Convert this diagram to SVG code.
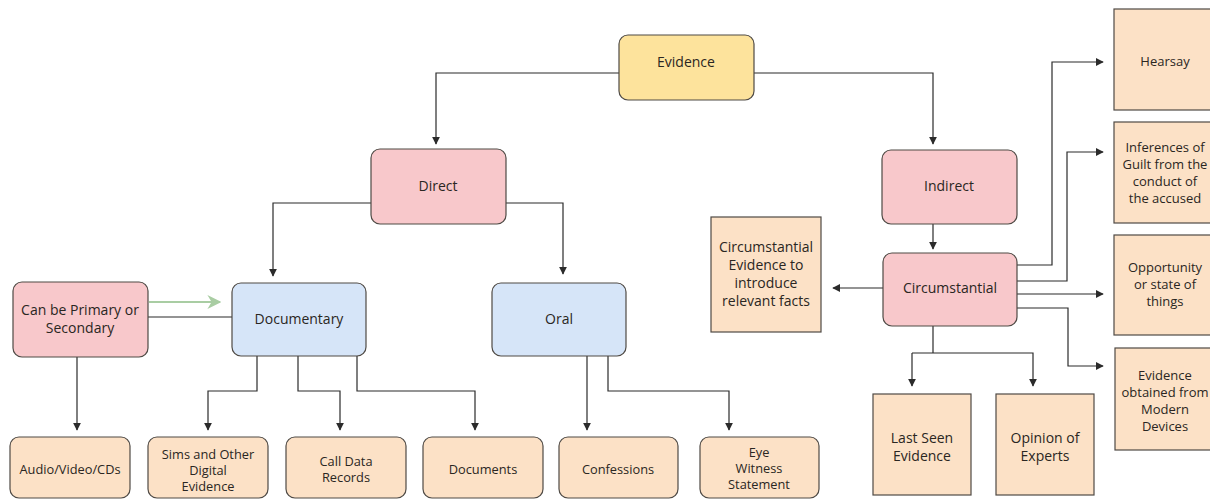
<svg xmlns="http://www.w3.org/2000/svg" width="1210" height="500" viewBox="0 0 1210 500">
  <defs>
    <marker id="arrow" viewBox="0 0 10 10" refX="9" refY="5" markerWidth="8" markerHeight="8" markerUnits="userSpaceOnUse" orient="auto">
      <path d="M0,0 L10,5 L0,10 Z" fill="#2b2b2b"/>
    </marker>
    <marker id="arrow-green" viewBox="0 0 10 10" refX="9" refY="5" markerWidth="14" markerHeight="14" markerUnits="userSpaceOnUse" orient="auto">
      <path d="M0,0 L10,5 L0,10 L3,5 Z" fill="#a9cda3"/>
    </marker>
    <style>
      .box { stroke: #4f4a45; stroke-width: 1.2; }
      .yellow { fill: #fde39c; }
      .pink { fill: #f8c8cb; }
      .blue { fill: #d6e5f8; }
      .peach { fill: #fce1c6; }
      .label { font-family: "Open Sans", "Liberation Sans", sans-serif; font-size: 14px; fill: #2a2622; text-anchor: middle; }
      .small { font-size: 12.8px; }
      .side { font-size: 13px; }
      .wire { fill: none; stroke: #2b2b2b; stroke-width: 1.2; }
      .wire-arrow { marker-end: url(#arrow); }
    </style>
  </defs>

  <rect width="1210" height="500" fill="#ffffff"/>

  <!-- connectors -->
  <g id="connectors">
    <!-- Evidence to Direct / Indirect -->
    <path class="wire wire-arrow" d="M619,73 H436 V144"/>
    <path class="wire wire-arrow" d="M754,73 H933 V144"/>
    <!-- Direct to Documentary / Oral -->
    <path class="wire wire-arrow" d="M371,203 H273 V276"/>
    <path class="wire wire-arrow" d="M506,203 H563 V274"/>
    <!-- Primary/Secondary to Documentary -->
    <path d="M149,302 H220" fill="none" stroke="#a9cda3" stroke-width="2" marker-end="url(#arrow-green)"/>
    <path class="wire" d="M148,317 H232" stroke="#6b6b6b"/>
    <path class="wire wire-arrow" d="M77,357 V430"/>
    <!-- Documentary to its children -->
    <path class="wire wire-arrow" d="M257,356 V391 H208 V430"/>
    <path class="wire wire-arrow" d="M298,356 V391 H340 V430"/>
    <path class="wire wire-arrow" d="M357,356 V391 H475 V430"/>
    <!-- Oral to its children -->
    <path class="wire wire-arrow" d="M587,356 V430"/>
    <path class="wire wire-arrow" d="M608,356 V391 H729 V430"/>
    <!-- Indirect to Circumstantial -->
    <path class="wire wire-arrow" d="M933,224 V249"/>
    <!-- Circumstantial to side notes -->
    <path class="wire wire-arrow" d="M883,288 H833"/>
    <path class="wire wire-arrow" d="M1017,265 H1052 V62 H1103"/>
    <path class="wire wire-arrow" d="M1017,281 H1067 V152 H1103"/>
    <path class="wire wire-arrow" d="M1017,294 H1103"/>
    <path class="wire wire-arrow" d="M1017,308 H1068 V366 H1103"/>
    <!-- Circumstantial to bottom notes -->
    <path class="wire" d="M933,326 V353"/>
    <path class="wire wire-arrow" d="M912,353 V386"/>
    <path class="wire wire-arrow" d="M912,353 H1033 V386"/>
  </g>

  <!-- top level -->
  <g id="node-evidence">
    <rect class="box yellow" x="619" y="35" width="135" height="65" rx="9"/>
    <text class="label" x="686" y="67">Evidence</text>
  </g>

  <g id="node-direct">
    <rect class="box pink" x="371" y="149" width="135" height="75" rx="9"/>
    <text class="label" x="438" y="191">Direct</text>
  </g>

  <g id="node-indirect">
    <rect class="box pink" x="882" y="150" width="135" height="74" rx="9"/>
    <text class="label" x="949" y="191">Indirect</text>
  </g>

  <g id="node-primary-secondary">
    <rect class="box pink" x="13" y="282" width="135" height="75" rx="9"/>
    <text class="label" x="80" y="315">Can be Primary or</text>
    <text class="label" x="80" y="333">Secondary</text>
  </g>

  <g id="node-documentary">
    <rect class="box blue" x="232" y="283" width="134" height="73" rx="9"/>
    <text class="label" x="299" y="324">Documentary</text>
  </g>

  <g id="node-oral">
    <rect class="box blue" x="492" y="283" width="134" height="73" rx="9"/>
    <text class="label" x="559" y="324">Oral</text>
  </g>

  <g id="node-circumstantial">
    <rect class="box pink" x="883" y="253" width="134" height="73" rx="9"/>
    <text class="label" x="950" y="293">Circumstantial</text>
  </g>

  <g id="node-circumstantial-evidence">
    <rect class="box peach" x="711" y="217" width="110" height="115"/>
    <text class="label" x="766" y="252">Circumstantial</text>
    <text class="label" x="766" y="270">Evidence to</text>
    <text class="label" x="766" y="288">introduce</text>
    <text class="label" x="766" y="306">relevant facts</text>
  </g>

  <!-- bottom row -->
  <g id="node-audio-video">
    <rect class="box peach" x="10" y="437" width="120" height="61" rx="9"/>
    <text class="label small" x="70" y="474">Audio/Video/CDs</text>
  </g>

  <g id="node-sims">
    <rect class="box peach" x="148" y="437" width="120" height="61" rx="9"/>
    <text class="label small" x="208" y="459">Sims and Other</text>
    <text class="label small" x="208" y="475">Digital</text>
    <text class="label small" x="208" y="491">Evidence</text>
  </g>

  <g id="node-call-data">
    <rect class="box peach" x="286" y="437" width="120" height="61" rx="9"/>
    <text class="label small" x="346" y="466">Call Data</text>
    <text class="label small" x="346" y="482">Records</text>
  </g>

  <g id="node-documents">
    <rect class="box peach" x="423" y="437" width="120" height="61" rx="9"/>
    <text class="label small" x="483" y="474">Documents</text>
  </g>

  <g id="node-confessions">
    <rect class="box peach" x="559" y="437" width="119" height="61" rx="9"/>
    <text class="label small" x="618" y="474">Confessions</text>
  </g>

  <g id="node-eye-witness">
    <rect class="box peach" x="700" y="437" width="119" height="61" rx="9"/>
    <text class="label small" x="759" y="457">Eye</text>
    <text class="label small" x="759" y="473">Witness</text>
    <text class="label small" x="759" y="489">Statement</text>
  </g>

  <g id="node-last-seen">
    <rect class="box peach" x="873" y="394" width="98" height="101"/>
    <text class="label" x="922" y="443">Last Seen</text>
    <text class="label" x="922" y="461">Evidence</text>
  </g>

  <g id="node-opinion">
    <rect class="box peach" x="996" y="394" width="98" height="101"/>
    <text class="label" x="1045" y="443">Opinion of</text>
    <text class="label" x="1045" y="461">Experts</text>
  </g>

  <!-- right column -->
  <g id="node-hearsay">
    <rect class="box peach" x="1114" y="9" width="102" height="101"/>
    <text class="label side" x="1165" y="66">Hearsay</text>
  </g>

  <g id="node-inferences">
    <rect class="box peach" x="1114" y="122" width="102" height="101"/>
    <text class="label side" x="1165" y="152">Inferences of</text>
    <text class="label side" x="1165" y="169">Guilt from the</text>
    <text class="label side" x="1165" y="186">conduct of</text>
    <text class="label side" x="1165" y="203">the accused</text>
  </g>

  <g id="node-opportunity">
    <rect class="box peach" x="1114" y="235" width="102" height="100"/>
    <text class="label side" x="1165" y="272">Opportunity</text>
    <text class="label side" x="1165" y="289">or state of</text>
    <text class="label side" x="1165" y="306">things</text>
  </g>

  <g id="node-modern-devices">
    <rect class="box peach" x="1115" y="348" width="102" height="102"/>
    <text class="label side" x="1165" y="380">Evidence</text>
    <text class="label side" x="1165" y="397">obtained from</text>
    <text class="label side" x="1165" y="414">Modern</text>
    <text class="label side" x="1165" y="431">Devices</text>
  </g>
</svg>
